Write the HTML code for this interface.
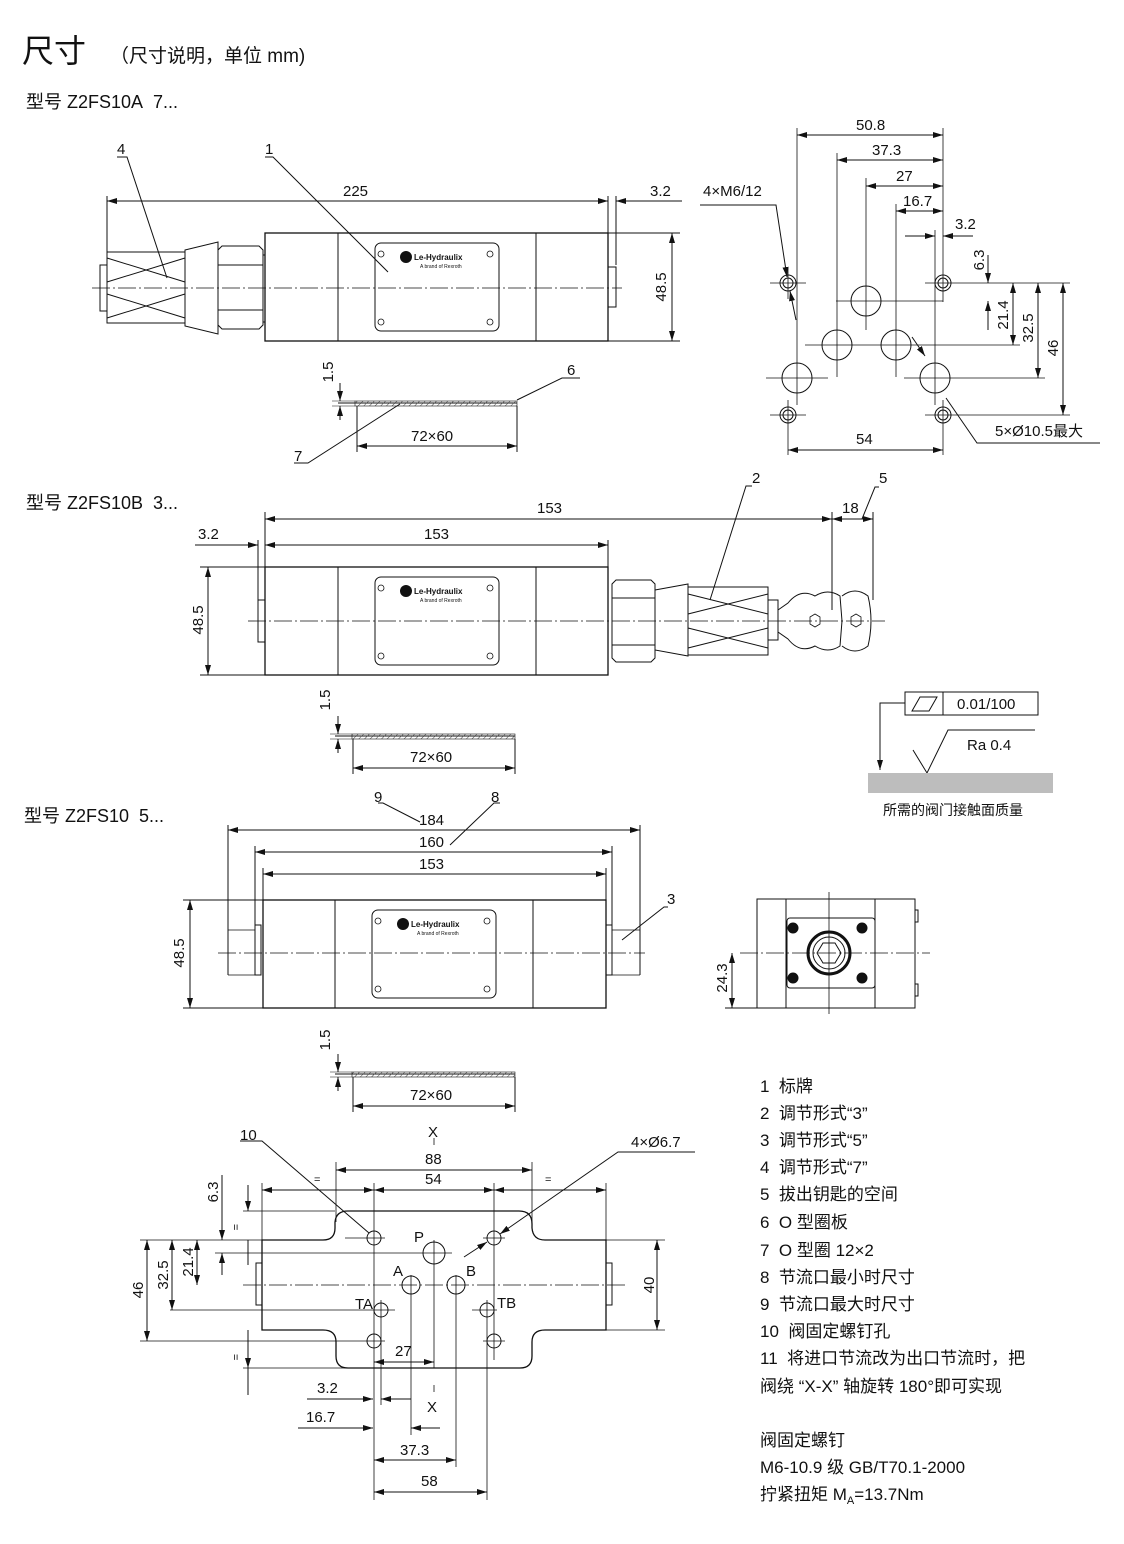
<!DOCTYPE html>
<html><head><meta charset="utf-8"><style>
html,body{margin:0;padding:0;background:#fff}
svg{display:block}
text{font-family:"Liberation Sans","Noto Sans CJK SC",sans-serif;fill:#111}
.r{text-anchor:middle}
</style></head><body>
<svg width="1124" height="1544" viewBox="0 0 1124 1544" xmlns="http://www.w3.org/2000/svg">
<defs>
<marker id="a" viewBox="0 0 10 6" refX="10" refY="3" markerWidth="10" markerHeight="6" orient="auto-start-reverse" markerUnits="userSpaceOnUse"><path d="M0,0L10,3L0,6z" fill="#111"/></marker>
<pattern id="h" width="4" height="4" patternUnits="userSpaceOnUse" patternTransform="rotate(45)"><line x1="0" y1="0" x2="0" y2="4" stroke="#444" stroke-width="1"/></pattern>
</defs>
<text x="22" y="62" font-size="32">尺寸</text>
<text x="110" y="62" font-size="19">（尺寸说明，单位 mm)</text>
<text x="26" y="108" font-size="18">型号 Z2FS10A&#160;&#160;7...</text>
<text x="26" y="509" font-size="18">型号 Z2FS10B&#160;&#160;3...</text>
<text x="24" y="822" font-size="18">型号 Z2FS10&#160;&#160;5...</text>

<g stroke="#111" fill="none" stroke-width="1">
<rect x="265" y="233" width="343" height="108" stroke-width="1.3"/>
<line x1="338" y1="233" x2="338" y2="341"/><line x1="536" y1="233" x2="536" y2="341"/>
<rect x="375" y="243" width="124" height="88" rx="6"/>
<g stroke-width="0.8"><circle cx="381" cy="254" r="3"/><circle cx="490" cy="254" r="3"/><circle cx="381" cy="322" r="3"/><circle cx="490" cy="322" r="3"/></g>
<line x1="92" y1="288" x2="622" y2="288" stroke-dasharray="18,3,2,3" stroke-width="0.8"/>
<rect x="100" y="265" width="7" height="46"/>
<rect x="107" y="252" width="78" height="71"/>
<path d="M107,258L185,282M107,282L185,258M107,294L185,318M107,318L185,294"/>
<path d="M185,250L218,242L218,334L185,326z"/>
<path d="M218,250L222,246L259,246L263,250L263,325L259,329L222,329L218,325z"/>
<line x1="218" y1="265" x2="263" y2="265"/><line x1="218" y1="310" x2="263" y2="310"/>
<rect x="263" y="255" width="2" height="67"/>
<rect x="608" y="267" width="8" height="40"/>
<line x1="107" y1="196" x2="107" y2="252"/><line x1="608" y1="196" x2="608" y2="265"/><line x1="616" y1="196" x2="616" y2="265"/>
<line x1="107" y1="201" x2="608" y2="201" marker-start="url(#a)" marker-end="url(#a)"/>
<line x1="616" y1="201" x2="682" y2="201" marker-start="url(#a)"/>
<line x1="608" y1="233" x2="680" y2="233"/><line x1="608" y1="341" x2="680" y2="341"/>
<line x1="672" y1="233" x2="672" y2="341" marker-start="url(#a)" marker-end="url(#a)"/>
<path d="M117,157L127,157L167,278"/><path d="M265,157L273,157L388,272"/>
<line x1="338" y1="403" x2="517" y2="403"/>
<rect x="355" y="401" width="162" height="5" fill="url(#h)" stroke-width="0.6"/>
<line x1="340" y1="383" x2="340" y2="401" marker-end="url(#a)"/><line x1="340" y1="420" x2="340" y2="406" marker-end="url(#a)"/>
<line x1="332" y1="401" x2="355" y2="401" stroke-width="0.6"/><line x1="332" y1="406" x2="355" y2="406" stroke-width="0.6"/>
<line x1="357" y1="406" x2="357" y2="452"/><line x1="517" y1="406" x2="517" y2="452"/>
<line x1="357" y1="446" x2="517" y2="446" marker-start="url(#a)" marker-end="url(#a)"/>
<path d="M580,378L562,378L517,400"/><path d="M294,463L308,463L400,404"/>

<circle cx="788" cy="283" r="8"/><circle cx="788" cy="283" r="5"/>
<circle cx="943" cy="283" r="8"/><circle cx="943" cy="283" r="5"/>
<circle cx="788" cy="415" r="8"/><circle cx="788" cy="415" r="5"/>
<circle cx="943" cy="415" r="8"/><circle cx="943" cy="415" r="5"/>
<circle cx="866" cy="301" r="15"/><circle cx="837" cy="345" r="15"/><circle cx="896" cy="345" r="15"/>
<circle cx="797" cy="378" r="15"/><circle cx="935" cy="378" r="15"/>
<g stroke-width="0.8">
<line x1="770" y1="283" x2="806" y2="283"/><line x1="925" y1="283" x2="1070" y2="283"/>
<line x1="770" y1="415" x2="806" y2="415"/><line x1="925" y1="415" x2="1070" y2="415"/>
<line x1="836" y1="301" x2="943" y2="301"/><line x1="805" y1="345" x2="1020" y2="345"/>
<line x1="766" y1="378" x2="828" y2="378"/><line x1="904" y1="378" x2="1045" y2="378"/>
<line x1="797" y1="128" x2="797" y2="405"/><line x1="837" y1="153" x2="837" y2="377"/>
<line x1="866" y1="178" x2="866" y2="330"/><line x1="896" y1="204" x2="896" y2="377"/>
<line x1="935" y1="230" x2="935" y2="405"/><line x1="943" y1="128" x2="943" y2="302"/>
<line x1="788" y1="400" x2="788" y2="455"/><line x1="943" y1="400" x2="943" y2="455"/>
<line x1="788" y1="267" x2="788" y2="299"/>
</g>
<line x1="797" y1="135" x2="943" y2="135" marker-start="url(#a)" marker-end="url(#a)"/>
<line x1="837" y1="160" x2="943" y2="160" marker-start="url(#a)" marker-end="url(#a)"/>
<line x1="866" y1="186" x2="943" y2="186" marker-start="url(#a)" marker-end="url(#a)"/>
<line x1="896" y1="211" x2="943" y2="211" marker-start="url(#a)" marker-end="url(#a)"/>
<line x1="905" y1="236" x2="935" y2="236" marker-end="url(#a)"/><line x1="973" y1="236" x2="943" y2="236" marker-end="url(#a)"/>
<line x1="988" y1="255" x2="988" y2="283" marker-end="url(#a)"/><line x1="988" y1="330" x2="988" y2="301" marker-end="url(#a)"/>
<line x1="1013" y1="283" x2="1013" y2="345" marker-start="url(#a)" marker-end="url(#a)"/>
<line x1="1038" y1="283" x2="1038" y2="378" marker-start="url(#a)" marker-end="url(#a)"/>
<line x1="1063" y1="283" x2="1063" y2="415" marker-start="url(#a)" marker-end="url(#a)"/>
<line x1="788" y1="450" x2="943" y2="450" marker-start="url(#a)" marker-end="url(#a)"/>
<path d="M700,205L776,205L787,277" marker-end="url(#a)"/><line x1="796" y1="320" x2="790" y2="291" marker-end="url(#a)"/>
<path d="M1100,443L977,443L946,398"/><line x1="912" y1="337" x2="925" y2="356" marker-end="url(#a)"/>

<rect x="265" y="567" width="343" height="108" stroke-width="1.3"/>
<line x1="338" y1="567" x2="338" y2="675"/><line x1="536" y1="567" x2="536" y2="675"/>
<rect x="375" y="577" width="124" height="88" rx="6"/>
<g stroke-width="0.8"><circle cx="381" cy="588" r="3"/><circle cx="490" cy="588" r="3"/><circle cx="381" cy="656" r="3"/><circle cx="490" cy="656" r="3"/></g>
<line x1="248" y1="621" x2="885" y2="621" stroke-dasharray="18,3,2,3" stroke-width="0.8"/>
<rect x="258" y="600" width="7" height="42"/>
<path d="M612,584L616,580L651,580L655,584L655,658L651,662L616,662L612,658z"/>
<line x1="612" y1="598" x2="655" y2="598"/><line x1="612" y1="645" x2="655" y2="645"/>
<path d="M655,590L688,584L688,656L655,650z"/>
<rect x="688" y="587" width="80" height="68"/>
<path d="M688,594L768,614M688,614L768,594M688,628L768,648M688,648L768,628"/>
<rect x="768" y="600" width="10" height="40"/>
<path d="M778,610L788,603Q800,588 815,596Q828,588 840,596L842,621L840,646Q828,654 815,646Q800,654 788,639L778,632z"/>
<path d="M842,596Q855,586 868,596Q874,621 868,646Q855,656 842,646"/>
<path d="M810,617l5,-3l5,3l0,7l-5,3l-5,-3z" stroke-width="0.8"/><path d="M851,617l5,-3l5,3l0,7l-5,3l-5,-3z" stroke-width="0.8"/>
<line x1="265" y1="512" x2="265" y2="567"/><line x1="258" y1="540" x2="258" y2="600"/>
<line x1="608" y1="540" x2="608" y2="567"/><line x1="832" y1="512" x2="832" y2="610"/><line x1="873" y1="512" x2="873" y2="600"/>
<line x1="265" y1="519" x2="832" y2="519" marker-start="url(#a)" marker-end="url(#a)"/>
<line x1="265" y1="545" x2="608" y2="545" marker-start="url(#a)" marker-end="url(#a)"/>
<line x1="195" y1="545" x2="258" y2="545" marker-end="url(#a)"/>
<line x1="832" y1="519" x2="873" y2="519" marker-start="url(#a)" marker-end="url(#a)"/>
<line x1="200" y1="567" x2="265" y2="567"/><line x1="200" y1="675" x2="265" y2="675"/>
<line x1="208" y1="567" x2="208" y2="675" marker-start="url(#a)" marker-end="url(#a)"/>
<path d="M752,486L746,486L710,600"/><path d="M879,487L875,487L862,519"/>
<line x1="335" y1="736" x2="515" y2="736"/>
<rect x="352" y="734" width="163" height="5" fill="url(#h)" stroke-width="0.6"/>
<line x1="338" y1="716" x2="338" y2="734" marker-end="url(#a)"/><line x1="338" y1="753" x2="338" y2="739" marker-end="url(#a)"/>
<line x1="330" y1="734" x2="352" y2="734" stroke-width="0.6"/><line x1="330" y1="739" x2="352" y2="739" stroke-width="0.6"/>
<line x1="353" y1="739" x2="353" y2="774"/><line x1="515" y1="739" x2="515" y2="774"/>
<line x1="353" y1="768" x2="515" y2="768" marker-start="url(#a)" marker-end="url(#a)"/>

<rect x="905" y="692" width="133" height="23"/><line x1="943" y1="692" x2="943" y2="715"/>
<path d="M912,711L920,697L937,697L929,711z"/>
<path d="M905,703L880,703L880,770" marker-end="url(#a)"/>
<path d="M913,750L927,773L948,730L1035,730"/>
</g>
<rect x="868" y="773" width="185" height="20" fill="#bdbdbd"/>
<g stroke="#111" fill="none" stroke-width="1">

<rect x="263" y="900" width="343" height="108" stroke-width="1.3"/>
<line x1="335" y1="900" x2="335" y2="1008"/><line x1="533" y1="900" x2="533" y2="1008"/>
<rect x="372" y="910" width="124" height="88" rx="6"/>
<g stroke-width="0.8"><circle cx="378" cy="921" r="3"/><circle cx="487" cy="921" r="3"/><circle cx="378" cy="989" r="3"/><circle cx="487" cy="989" r="3"/></g>
<line x1="183" y1="900" x2="263" y2="900"/><line x1="183" y1="1008" x2="263" y2="1008"/>
<line x1="218" y1="953" x2="645" y2="953" stroke-dasharray="18,3,2,3" stroke-width="0.8"/>
<path d="M228,930L255,930M228,975L255,975" stroke-width="0.8"/>
<rect x="255" y="925" width="6" height="50"/><rect x="606" y="925" width="6" height="50"/>
<path d="M612,930L640,930M612,975L640,975" stroke-width="0.8"/>
<line x1="228" y1="825" x2="228" y2="975"/><line x1="640" y1="825" x2="640" y2="975"/>
<line x1="255" y1="846" x2="255" y2="925"/><line x1="612" y1="846" x2="612" y2="925"/>
<line x1="263" y1="868" x2="263" y2="900"/><line x1="606" y1="868" x2="606" y2="900"/>
<line x1="228" y1="830" x2="640" y2="830" marker-start="url(#a)" marker-end="url(#a)"/>
<line x1="255" y1="852" x2="612" y2="852" marker-start="url(#a)" marker-end="url(#a)"/>
<line x1="263" y1="874" x2="606" y2="874" marker-start="url(#a)" marker-end="url(#a)"/>
<line x1="190" y1="900" x2="190" y2="1008" marker-start="url(#a)" marker-end="url(#a)"/>
<path d="M378,803L383,803L420,822"/><path d="M500,803L494,803L450,845"/><path d="M668,907L664,907L622,940"/>
<rect x="757" y="899" width="158" height="109"/>
<line x1="786" y1="899" x2="786" y2="1008"/><line x1="875" y1="899" x2="875" y2="1008"/>
<rect x="787" y="918" width="88" height="70" rx="3"/>
<circle cx="829" cy="953" r="21" stroke-width="3"/><circle cx="829" cy="953" r="16"/>
<path d="M823,943L835,943L841,953L835,963L823,963L817,953z"/>
<g fill="#111"><circle cx="793" cy="928" r="5"/><circle cx="862" cy="928" r="5"/><circle cx="793" cy="978" r="5"/><circle cx="862" cy="978" r="5"/></g>
<rect x="915" y="910" width="3" height="12"/><rect x="915" y="984" width="3" height="12"/>
<line x1="740" y1="953" x2="930" y2="953" stroke-dasharray="18,3,2,3" stroke-width="0.8"/>
<line x1="829" y1="892" x2="829" y2="1014" stroke-width="0.8"/>
<line x1="725" y1="1008" x2="757" y2="1008"/>
<line x1="732" y1="953" x2="732" y2="1008" marker-start="url(#a)" marker-end="url(#a)"/>
<line x1="335" y1="1074" x2="515" y2="1074"/>
<rect x="352" y="1072" width="163" height="5" fill="url(#h)" stroke-width="0.6"/>
<line x1="338" y1="1054" x2="338" y2="1072" marker-end="url(#a)"/><line x1="338" y1="1091" x2="338" y2="1077" marker-end="url(#a)"/>
<line x1="330" y1="1072" x2="352" y2="1072" stroke-width="0.6"/><line x1="330" y1="1077" x2="352" y2="1077" stroke-width="0.6"/>
<line x1="353" y1="1077" x2="353" y2="1112"/><line x1="515" y1="1077" x2="515" y2="1112"/>
<line x1="353" y1="1106" x2="515" y2="1106" marker-start="url(#a)" marker-end="url(#a)"/>

<path d="M262,1240L323,1240Q335,1240 335,1228L335,1222Q336,1211 348,1211L519,1211Q532,1211 532,1224L532,1228Q533,1240 545,1240L606,1240L606,1330L545,1330Q532,1330 532,1342L532,1356Q532,1368 520,1368L348,1368Q336,1368 336,1356L336,1342Q336,1330 323,1330L262,1330Z" stroke-width="1.3"/>
<rect x="256" y="1263" width="6" height="42"/><rect x="606" y="1263" width="6" height="42"/>
<line x1="243" y1="1285" x2="625" y2="1285" stroke-dasharray="18,3,2,3" stroke-width="0.8"/>
<circle cx="374" cy="1238" r="7"/><circle cx="494" cy="1238" r="7"/><circle cx="374" cy="1341" r="7"/><circle cx="494" cy="1341" r="7"/>
<circle cx="434" cy="1253" r="11"/><circle cx="411" cy="1285" r="9"/><circle cx="456" cy="1285" r="9"/><circle cx="381" cy="1310" r="7"/><circle cx="487" cy="1310" r="7"/>
<g stroke-width="0.8">
<line x1="345" y1="1238" x2="385" y2="1238"/><line x1="483" y1="1238" x2="505" y2="1238"/>
<line x1="215" y1="1253" x2="452" y2="1253"/><line x1="170" y1="1310" x2="395" y2="1310"/><line x1="472" y1="1310" x2="497" y2="1310"/>
<line x1="140" y1="1240" x2="262" y2="1240"/><line x1="140" y1="1341" x2="385" y2="1341"/><line x1="483" y1="1341" x2="505" y2="1341"/>
<line x1="243" y1="1211" x2="335" y2="1211"/><line x1="243" y1="1368" x2="520" y2="1368"/>
<line x1="606" y1="1240" x2="665" y2="1240"/><line x1="606" y1="1330" x2="665" y2="1330"/>
<line x1="336" y1="1162" x2="336" y2="1222"/><line x1="532" y1="1162" x2="532" y2="1224"/>
<line x1="262" y1="1183" x2="262" y2="1240"/><line x1="606" y1="1183" x2="606" y2="1240"/>
<line x1="374" y1="1183" x2="374" y2="1500"/><line x1="494" y1="1183" x2="494" y2="1360"/>
<line x1="434" y1="1240" x2="434" y2="1368"/><line x1="381" y1="1300" x2="381" y2="1405"/>
<line x1="411" y1="1275" x2="411" y2="1435"/><line x1="456" y1="1275" x2="456" y2="1467"/><line x1="487" y1="1300" x2="487" y2="1500"/>
<line x1="434" y1="1138" x2="434" y2="1145"/><line x1="434" y1="1385" x2="434" y2="1392"/>
</g>
<line x1="336" y1="1170" x2="532" y2="1170" marker-start="url(#a)" marker-end="url(#a)"/>
<line x1="262" y1="1190" x2="374" y2="1190" marker-start="url(#a)" marker-end="url(#a)"/>
<line x1="374" y1="1190" x2="494" y2="1190" marker-start="url(#a)" marker-end="url(#a)"/>
<line x1="494" y1="1190" x2="606" y2="1190" marker-start="url(#a)" marker-end="url(#a)"/>
<line x1="657" y1="1240" x2="657" y2="1330" marker-start="url(#a)" marker-end="url(#a)"/>
<line x1="147" y1="1240" x2="147" y2="1341" marker-start="url(#a)" marker-end="url(#a)"/>
<line x1="172" y1="1240" x2="172" y2="1310" marker-start="url(#a)" marker-end="url(#a)"/>
<line x1="197" y1="1240" x2="197" y2="1285" marker-start="url(#a)" marker-end="url(#a)"/>
<line x1="222" y1="1175" x2="222" y2="1240" marker-end="url(#a)"/><line x1="222" y1="1275" x2="222" y2="1253" marker-end="url(#a)"/>
<line x1="248" y1="1185" x2="248" y2="1211" marker-end="url(#a)"/><line x1="248" y1="1265" x2="248" y2="1240"/>
<line x1="248" y1="1330" x2="248" y2="1368" marker-end="url(#a)"/><line x1="248" y1="1395" x2="248" y2="1368"/>
<line x1="374" y1="1362" x2="434" y2="1362" marker-start="url(#a)" marker-end="url(#a)"/>
<line x1="307" y1="1399" x2="373" y2="1399" marker-end="url(#a)"/><line x1="411" y1="1399" x2="381" y2="1399" marker-end="url(#a)"/>
<line x1="298" y1="1428" x2="373" y2="1428" marker-end="url(#a)"/><line x1="440" y1="1428" x2="411" y2="1428" marker-end="url(#a)"/>
<line x1="374" y1="1460" x2="456" y2="1460" marker-start="url(#a)" marker-end="url(#a)"/>
<line x1="374" y1="1492" x2="487" y2="1492" marker-start="url(#a)" marker-end="url(#a)"/>
<path d="M240,1141L262,1141L369,1233"/>
<path d="M695,1152L618,1152L500,1234" marker-end="url(#a)"/><line x1="464" y1="1257" x2="487" y2="1242" marker-end="url(#a)"/>
</g>

<g font-size="15">
<text x="117" y="154">4</text><text x="265" y="154">1</text>
<text x="343" y="196">225</text><text x="650" y="196">3.2</text>
<text x="411" y="441">72×60</text><text x="567" y="375">6</text><text x="294" y="461">7</text>
<text x="856" y="130">50.8</text><text x="872" y="155">37.3</text><text x="896" y="181">27</text><text x="903" y="206">16.7</text><text x="955" y="229">3.2</text>
<text x="703" y="196">4×M6/12</text><text x="856" y="444">54</text><text x="995" y="436">5×Ø10.5最大</text>
<text x="752" y="483">2</text><text x="879" y="483">5</text>
<text x="537" y="513">153</text><text x="424" y="539">153</text><text x="198" y="539">3.2</text><text x="842" y="513">18</text>
<text x="410" y="762">72×60</text>
<text x="957" y="709">0.01/100</text><text x="967" y="750">Ra 0.4</text>
<text x="883" y="815" font-size="14">所需的阀门接触面质量</text>
<text x="374" y="802">9</text><text x="491" y="802">8</text>
<text x="419" y="825">184</text><text x="419" y="847">160</text><text x="419" y="869">153</text>
<text x="667" y="904">3</text>
<text x="410" y="1100">72×60</text>
<text x="240" y="1140">10</text><text x="428" y="1137">X</text><text x="631" y="1147">4×Ø6.7</text>
<text x="425" y="1164">88</text><text x="425" y="1184">54</text>
<text x="414" y="1242">P</text><text x="393" y="1276">A</text><text x="466" y="1276">B</text><text x="355" y="1309">TA</text><text x="497" y="1308">TB</text>
<text x="395" y="1356">27</text><text x="317" y="1393">3.2</text><text x="306" y="1422">16.7</text><text x="427" y="1412">X</text>
<text x="400" y="1455">37.3</text><text x="421" y="1486">58</text>
</g>
<g font-size="15" class="r">
<text transform="translate(666,287) rotate(-90)">48.5</text>
<text transform="translate(333,372) rotate(-90)">1.5</text>
<text transform="translate(984,260) rotate(-90)">6.3</text>
<text transform="translate(1008,315) rotate(-90)">21.4</text>
<text transform="translate(1033,328) rotate(-90)">32.5</text>
<text transform="translate(1058,348) rotate(-90)">46</text>
<text transform="translate(203,620) rotate(-90)">48.5</text>
<text transform="translate(330,700) rotate(-90)">1.5</text>
<text transform="translate(184,953) rotate(-90)">48.5</text>
<text transform="translate(727,978) rotate(-90)">24.3</text>
<text transform="translate(330,1040) rotate(-90)">1.5</text>
<text transform="translate(654,1285) rotate(-90)">40</text>
<text transform="translate(143,1290) rotate(-90)">46</text>
<text transform="translate(168,1275) rotate(-90)">32.5</text>
<text transform="translate(193,1262) rotate(-90)">21.4</text>
<text transform="translate(218,1192) rotate(-90)">6.3</text>
</g>
<g font-size="11" fill="#888"><text x="314" y="1183">=</text><text x="545" y="1183">=</text>
<text transform="translate(232,1224) rotate(90)">=</text><text transform="translate(232,1354) rotate(90)">=</text></g>
<g font-size="8"><text x="414" y="260" font-weight="bold">Le-Hydraulix</text><text x="414" y="594" font-weight="bold">Le-Hydraulix</text><text x="411" y="927" font-weight="bold">Le-Hydraulix</text></g>
<g font-size="5"><text x="420" y="268">A brand of Rexroth</text><text x="420" y="602">A brand of Rexroth</text><text x="417" y="935">A brand of Rexroth</text></g>
<g fill="#111"><circle cx="406" cy="257" r="6"/><circle cx="406" cy="591" r="6"/><circle cx="403" cy="924" r="6"/></g>

<g font-size="17">
<text x="760" y="1092">1&#160;&#160;标牌</text>
<text x="760" y="1119">2&#160;&#160;调节形式“3”</text>
<text x="760" y="1146">3&#160;&#160;调节形式“5”</text>
<text x="760" y="1173">4&#160;&#160;调节形式“7”</text>
<text x="760" y="1200">5&#160;&#160;拔出钥匙的空间</text>
<text x="760" y="1228">6&#160;&#160;O 型圈板</text>
<text x="760" y="1256">7&#160;&#160;O 型圈 12×2</text>
<text x="760" y="1283">8&#160;&#160;节流口最小时尺寸</text>
<text x="760" y="1310">9&#160;&#160;节流口最大时尺寸</text>
<text x="760" y="1337">10&#160;&#160;阀固定螺钉孔</text>
<text x="760" y="1364">11&#160;&#160;将进口节流改为出口节流时，把</text>
<text x="760" y="1392">阀绕 “X-X” 轴旋转 180°即可实现</text>
<text x="760" y="1446">阀固定螺钉</text>
<text x="760" y="1473">M6-10.9 级 GB/T70.1-2000</text>
<text x="760" y="1500">拧紧扭矩 M<tspan font-size="11" dy="4">A</tspan><tspan dy="-4">=13.7Nm</tspan></text>
</g>
</svg>
</body></html>
